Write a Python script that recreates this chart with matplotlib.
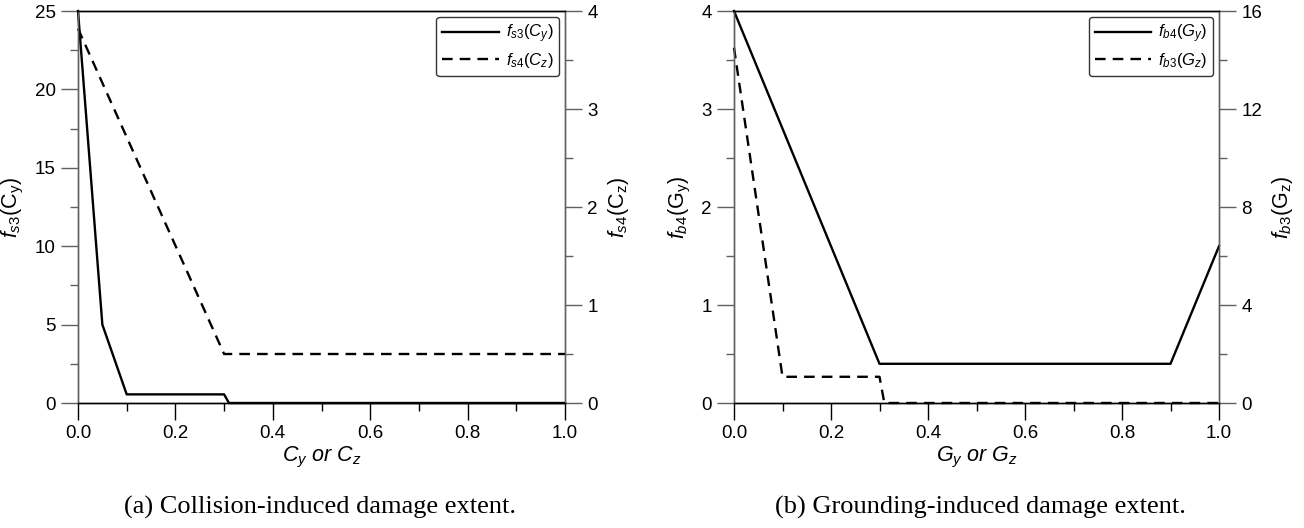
import matplotlib
matplotlib.use("Agg")
import matplotlib.pyplot as plt
from matplotlib.ticker import MultipleLocator

plt.rcParams['font.family'] = ['Liberation Sans', 'DejaVu Sans']
plt.rcParams['mathtext.fontset'] = 'custom'
plt.rcParams['mathtext.it'] = 'Liberation Sans:italic'
plt.rcParams['mathtext.rm'] = 'Liberation Sans'
plt.rcParams['mathtext.sf'] = 'Liberation Sans'

# ---- data ----
x_fs3 = [0.0, 0.05, 0.1, 0.3, 0.31, 1.0]
y_fs3 = [25.0, 5.0, 0.55, 0.55, 0.0, 0.0]
x_fs4 = [0.0, 0.3, 1.0]
y_fs4 = [3.82, 0.5, 0.5]

x_fb4 = [0.0, 0.3, 0.9, 1.0]
y_fb4 = [4.0, 0.4, 0.4, 1.6]
x_fb3 = [0.0, 0.1, 0.3, 0.31, 1.0]
y_fb3 = [14.5, 1.07, 1.07, 0.0, 0.0]

x_ticks = [0.0, 0.2, 0.4, 0.6, 0.8, 1.0]

W, H = 1304, 528
fig = plt.figure(figsize=(W / 100, H / 100), dpi=100)

def px_axes(x0, x1, y0, y1):
    return fig.add_axes([x0 / W, 1 - y1 / H, (x1 - x0) / W, (y1 - y0) / H])

LW = 1.7
DASH = (0, (4.5, 3))
SPINE_GRAY = '#606060'

def style(ax, tw, ymax_l, ymaj_l, ymax_r, ymaj_r):
    ax.set_xlim(0, 1)
    ax.set_ylim(0, ymax_l)
    tw.set_ylim(0, ymax_r)
    ax.set_xticks(x_ticks)
    ax.xaxis.set_minor_locator(MultipleLocator(0.1))
    ax.yaxis.set_major_locator(MultipleLocator(ymaj_l))
    ax.yaxis.set_minor_locator(MultipleLocator(ymaj_l / 2))
    tw.yaxis.set_major_locator(MultipleLocator(ymaj_r))
    tw.yaxis.set_minor_locator(MultipleLocator(ymaj_r / 2))
    ax.set_xticklabels([f"{v:.1f}" for v in x_ticks])
    for a in (ax, tw):
        a.tick_params(axis='both', which='major', direction='out', length=12,
                      width=1.0, labelsize=13.5, pad=4)
        a.tick_params(axis='both', which='minor', direction='out', length=6, width=1.0)
    ax.tick_params(axis='y', which='both', colors=SPINE_GRAY, labelcolor='black')
    tw.tick_params(axis='y', which='both', colors=SPINE_GRAY, labelcolor='black')
    ax.tick_params(axis='x', which='both', colors='black')
    for a in (ax, tw):
        a.spines['left'].set_color(SPINE_GRAY)
        a.spines['right'].set_color(SPINE_GRAY)
        a.spines['top'].set_color('black')
        a.spines['bottom'].set_color('black')
        for s in a.spines.values():
            s.set_linewidth(1.0)
    ax.set_facecolor('none')

def add_legend(tw, handles, labels):
    leg = tw.legend(handles, labels, loc='upper right',
                    fontsize=12, handlelength=3.4, frameon=True, fancybox=True,
                    edgecolor='black', borderaxespad=0.35, labelspacing=0.35,
                    handletextpad=0.4, borderpad=0.35)
    leg.get_frame().set_linewidth(1.0)
    return leg

# ---- panel (a) ----
ax1 = px_axes(78, 565, 11, 403)
tw1 = ax1.twinx()
l1, = ax1.plot(x_fs3, y_fs3, color='black', lw=LW, clip_on=False, zorder=3)
l2, = tw1.plot(x_fs4, y_fs4, color='black', lw=LW, linestyle=DASH, clip_on=False)
style(ax1, tw1, 25, 5, 4, 1)
ax1.set_xlabel(r'$C_y\ or\ C_z$', fontsize=15.5, labelpad=2)
ax1.set_ylabel(r'$f_{s3}\mathrm{(C_y)}$', fontsize=15.5, labelpad=6)
tw1.set_ylabel(r'$f_{s4}\mathrm{(C_z)}$', fontsize=15.5, labelpad=6)
add_legend(tw1, [l1, l2], [r'$f_{s3}(C_y)$', r'$f_{s4}(C_z)$'])

# ---- panel (b) ----
ax2 = px_axes(734, 1219, 11, 403)
tw2 = ax2.twinx()
l3, = ax2.plot(x_fb4, y_fb4, color='black', lw=LW, clip_on=False, zorder=3)
l4, = tw2.plot(x_fb3, y_fb3, color='black', lw=LW, linestyle=DASH, clip_on=False)
style(ax2, tw2, 4, 1, 16, 4)
ax2.set_xlabel(r'$G_y\ or\ G_z$', fontsize=15.5, labelpad=2)
ax2.set_ylabel(r'$f_{b4}\mathrm{(G_y)}$', fontsize=15.5, labelpad=6)
tw2.set_ylabel(r'$f_{b3}\mathrm{(G_z)}$', fontsize=15.5, labelpad=6)
add_legend(tw2, [l3, l4], [r'$f_{b4}(G_y)$', r'$f_{b3}(G_z)$'])

# captions
fig.text(320 / W, 1 - 507 / H, '(a) Collision-induced damage extent.',
         family='Liberation Serif', fontsize=19, ha='center', va='center')
fig.text(980 / W, 1 - 507 / H, '(b) Grounding-induced damage extent.',
         family='Liberation Serif', fontsize=19, ha='center', va='center')

fig.savefig('out.png', dpi=100)
